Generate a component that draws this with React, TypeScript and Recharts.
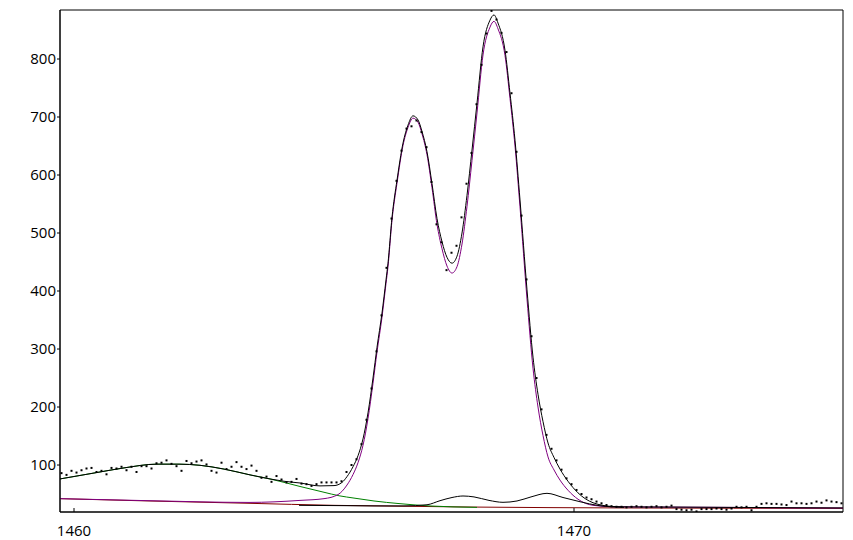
import { ComposedChart, Line, Scatter, XAxis, YAxis, ReferenceArea } from "recharts";

const X_MIN = 1459.72;
const X_MAX = 1475.38;
const Y_MIN = 19;
const Y_MAX = 884.5;

const xTicks = [1460, 1470];
const yTicks = [100, 200, 300, 400, 500, 600, 700, 800];

// measured counts, one every 0.1
const measured: [number, number][] = [
  [1459.75, 86], [1459.85, 83], [1459.95, 90], [1460.05, 87], [1460.15, 91], [1460.25, 94],
  [1460.35, 95], [1460.45, 88], [1460.55, 90], [1460.65, 84], [1460.75, 95], [1460.85, 94],
  [1460.95, 97], [1461.05, 91], [1461.15, 97], [1461.25, 88], [1461.35, 98], [1461.45, 98],
  [1461.55, 94], [1461.65, 103], [1461.75, 104], [1461.85, 108], [1461.95, 102], [1462.05, 98],
  [1462.15, 90], [1462.25, 107], [1462.35, 103], [1462.45, 106], [1462.55, 108], [1462.65, 101],
  [1462.75, 90], [1462.85, 87], [1462.95, 104], [1463.05, 93], [1463.15, 97], [1463.25, 105],
  [1463.35, 97], [1463.45, 93], [1463.55, 99], [1463.65, 90], [1463.75, 78], [1463.85, 80],
  [1463.95, 71], [1464.05, 81], [1464.15, 75], [1464.25, 70], [1464.35, 71], [1464.45, 76],
  [1464.55, 68], [1464.65, 67], [1464.75, 64], [1464.85, 67], [1464.95, 70], [1465.05, 70],
  [1465.15, 70], [1465.25, 70], [1465.35, 72], [1465.45, 88], [1465.55, 100], [1465.65, 110],
  [1465.75, 136], [1465.85, 178], [1465.95, 232], [1466.05, 296], [1466.15, 358], [1466.25, 440],
  [1466.35, 525], [1466.45, 590], [1466.55, 642], [1466.65, 680], [1466.75, 684], [1466.85, 694],
  [1466.95, 674], [1467.05, 648], [1467.15, 588], [1467.25, 515], [1467.35, 484], [1467.45, 436],
  [1467.55, 466], [1467.65, 478], [1467.75, 527], [1467.85, 585], [1467.95, 638], [1468.05, 722],
  [1468.15, 790], [1468.25, 844], [1468.35, 883], [1468.45, 868], [1468.55, 845], [1468.65, 812],
  [1468.75, 741], [1468.85, 640], [1468.95, 530], [1469.05, 420], [1469.15, 322], [1469.25, 250],
  [1469.35, 196], [1469.45, 152], [1469.55, 128], [1469.65, 108], [1469.75, 92], [1469.85, 77],
  [1469.95, 67], [1470.05, 57], [1470.15, 50], [1470.25, 44], [1470.35, 41], [1470.45, 37],
  [1470.55, 34], [1470.65, 31], [1470.75, 29], [1470.85, 28], [1470.95, 28], [1471.05, 27],
  [1471.15, 28], [1471.25, 29], [1471.35, 28], [1471.45, 27], [1471.55, 28], [1471.65, 29],
  [1471.75, 27], [1471.85, 28], [1471.95, 30], [1472.05, 24], [1472.15, 23], [1472.25, 22],
  [1472.35, 23], [1472.45, 20], [1472.55, 24], [1472.65, 24], [1472.75, 24], [1472.85, 25],
  [1472.95, 24], [1473.05, 23], [1473.15, 25], [1473.25, 28], [1473.35, 27], [1473.45, 28],
  [1473.55, 22], [1473.65, 28], [1473.75, 33], [1473.85, 34], [1473.95, 33], [1474.05, 33],
  [1474.15, 32], [1474.25, 31], [1474.35, 37], [1474.45, 34], [1474.55, 34], [1474.65, 33],
  [1474.75, 34], [1474.85, 37], [1474.95, 35], [1475.05, 39], [1475.15, 37], [1475.25, 36],
  [1475.35, 34],
];

// fitted envelope (black)
const envelope: [number, number][] = [
  [1459.72, 76], [1460.52, 88], [1461.0, 95], [1461.66, 101.5], [1462.1, 101.5], [1462.52, 99.5],
  [1463.0, 93], [1463.52, 83], [1463.92, 76], [1464.2, 72], [1464.52, 69], [1464.92, 64],
  [1465.2, 64.5], [1465.36, 70], [1465.46, 80], [1465.58, 97], [1465.68, 116], [1465.78, 145],
  [1465.88, 190], [1465.98, 250], [1466.06, 303], [1466.16, 362], [1466.24, 419], [1466.28, 448],
  [1466.36, 527], [1466.46, 591], [1466.58, 655], [1466.68, 686], [1466.78, 702], [1466.88, 695],
  [1466.96, 675], [1467.06, 640], [1467.16, 585], [1467.26, 525], [1467.36, 485], [1467.46, 458],
  [1467.56, 448], [1467.66, 460], [1467.76, 500], [1467.86, 565], [1467.96, 643], [1468.06, 724],
  [1468.18, 821], [1468.32, 867], [1468.4, 876], [1468.48, 862], [1468.62, 815], [1468.72, 741],
  [1468.82, 660], [1468.92, 557], [1469.06, 402], [1469.18, 286], [1469.28, 222], [1469.38, 175],
  [1469.48, 138], [1469.6, 113], [1469.72, 93], [1469.88, 72], [1470.08, 52], [1470.38, 35],
  [1470.78, 28.5], [1471.12, 27.8], [1472.0, 27.5], [1473.0, 27], [1475.38, 26],
];

// main doublet on background (purple)
const doublet: [number, number][] = [
  [1459.72, 42], [1461.5, 38.5], [1463.5, 35.5], [1464.0, 36.5], [1464.52, 39], [1465.0, 42],
  [1465.28, 49], [1465.46, 65.5], [1465.58, 83.5], [1465.68, 104], [1465.78, 134], [1465.88, 180],
  [1465.98, 241], [1466.06, 295], [1466.16, 355], [1466.24, 413], [1466.28, 442], [1466.36, 522],
  [1466.46, 586], [1466.58, 651], [1466.68, 682], [1466.78, 698], [1466.88, 691], [1466.96, 671],
  [1467.06, 635], [1467.16, 578], [1467.26, 515], [1467.36, 473], [1467.46, 443], [1467.56, 431],
  [1467.66, 442], [1467.76, 481], [1467.86, 546], [1467.96, 625], [1468.06, 707], [1468.18, 807],
  [1468.32, 855], [1468.4, 865], [1468.48, 852], [1468.62, 806], [1468.72, 732], [1468.82, 650],
  [1468.92, 545], [1469.06, 386], [1469.18, 267], [1469.28, 200], [1469.38, 151], [1469.48, 114],
  [1469.6, 91.5], [1469.72, 74], [1469.88, 56.5], [1470.08, 41], [1470.38, 30.5], [1470.78, 28],
  [1471.5, 27.5], [1473.0, 27], [1474.5, 26], [1475.38, 25.8],
];

// broad component (green)
const broadPeak: [number, number][] = [
  [1459.72, 76], [1460.52, 88], [1461.0, 95], [1461.66, 101.5], [1462.1, 101.5], [1462.52, 99.5],
  [1463.0, 93], [1463.52, 83], [1463.92, 76], [1464.52, 63], [1465.0, 53], [1465.3, 47],
  [1465.6, 43], [1466.0, 38], [1466.5, 33.5], [1467.1, 29.5], [1468.06, 27],
];

// small satellite pair (black)
const satellites: [number, number][] = [
  [1464.5, 30.5], [1465.3, 30], [1466.0, 29.5], [1466.6, 29.5], [1467.06, 31.5], [1467.32, 38.5],
  [1467.56, 44], [1467.78, 46.6], [1468.0, 45], [1468.3, 39], [1468.58, 35.7], [1468.86, 38],
  [1469.14, 45], [1469.46, 51.2], [1469.78, 44], [1470.12, 36.7], [1470.5, 30], [1471.0, 27],
];

// background (dark red)
const background: [number, number][] = [
  [1459.72, 42], [1461.5, 38], [1463.5, 34], [1465.2, 30.5], [1466.5, 29], [1468.0, 27.5],
  [1471.0, 26], [1475.38, 25.3],
];

const toPoints = (pairs: [number, number][]) => pairs.map(([x, y]) => ({ x, y }));

const FONT = "'Open Sans', 'Noto Sans', sans-serif";
const TEXT = "#000";

function XTick({ x, y, payload }: any) {
  return (
    <g>
      <line x1={x} x2={x} y1={y} y2={y - 4} stroke="#000" />
      <text x={x} y={y + 24} textAnchor="middle" fontSize={15} fill={TEXT} fontFamily={FONT}>
        {payload.value}
      </text>
    </g>
  );
}

function Dot({ cx, cy }: any) {
  if (cx == null || cy == null) return null;
  return <rect x={cx - 1} y={cy - 1} width={2} height={2} fill="#000" />;
}

const curve = (data: [number, number][], color: string, key: string) => (
  <Line
    key={key}
    data={toPoints(data)}
    dataKey="y"
    type="monotone"
    stroke={color}
    strokeWidth={1}
    dot={false}
    activeDot={false}
    isAnimationActive={false}
  />
);

export default function App() {
  return (
    <div style={{ width: 845, height: 532, fontFamily: FONT, background: "#fff" }}>
      <ComposedChart width={845} height={532} margin={{ top: 2, right: 10, bottom: 0, left: 0 }}>
        <XAxis
          type="number"
          dataKey="x"
          domain={[X_MIN, X_MAX]}
          ticks={xTicks}
          allowDataOverflow
          tickSize={0}
          tickMargin={0}
          tick={<XTick />}
          tickLine={false}
          axisLine={{ stroke: "#000" }}
          height={28}
        />
        <YAxis
          type="number"
          domain={[Y_MIN, Y_MAX]}
          ticks={yTicks}
          allowDataOverflow
          width={52}
          tickSize={3}
          tickMargin={1}
          tick={{ fontSize: 15, fill: TEXT, fontFamily: FONT }}
          tickLine={{ stroke: "#000" }}
          axisLine={{ stroke: "#000" }}
        />
        <ReferenceArea x1={X_MIN} x2={X_MAX} y1={Y_MIN} y2={Y_MAX} fill="none" stroke="#000" strokeWidth={1} />
        {curve(background, "#800000", "background")}
        {curve(broadPeak, "#008000", "broad")}
        {curve(doublet, "#800080", "doublet")}
        {curve(satellites, "#000000", "satellites")}
        {curve(envelope, "#000000", "envelope")}
        <Scatter data={toPoints(measured)} dataKey="y" shape={<Dot />} isAnimationActive={false} />
      </ComposedChart>
    </div>
  );
}
